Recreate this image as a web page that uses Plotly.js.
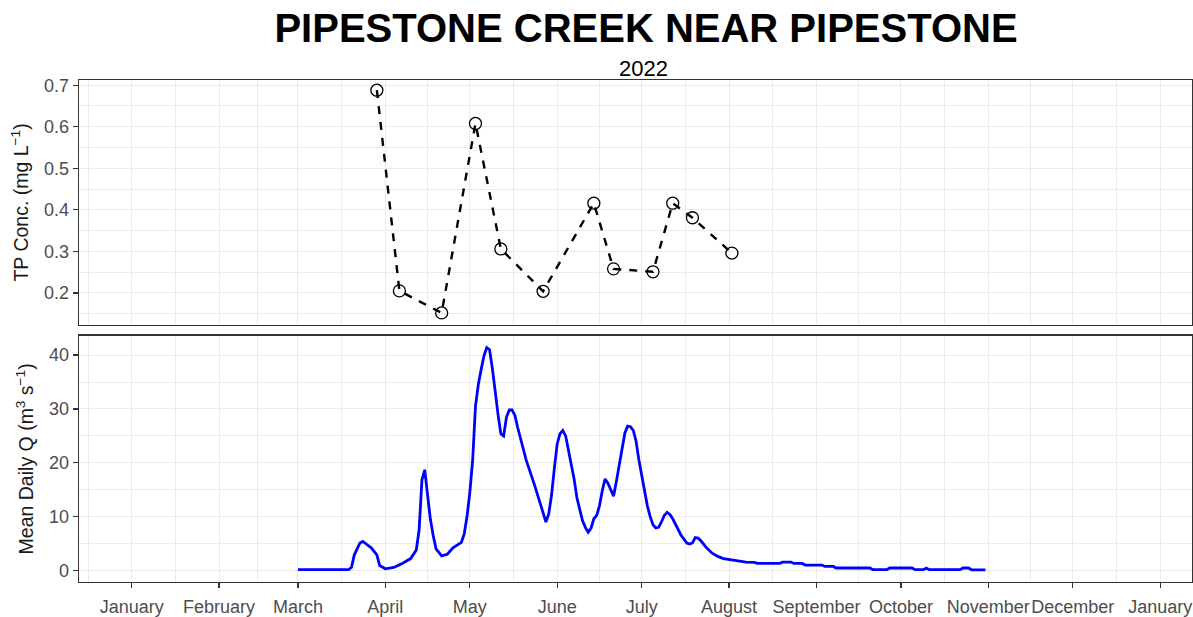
<!DOCTYPE html>
<html>
<head>
<meta charset="utf-8">
<script src="https://cdn.plot.ly/plotly-3.0.1.min.js"></script>
<style>html,body{margin:0;padding:0;background:#fff;}#chart{width:1193px;height:617px;}</style>
</head>
<body>
<div id="chart"></div>
<script>
// ---- Data ----
var tpDates = ['2022-03-29','2022-04-06','2022-04-21','2022-05-03','2022-05-12','2022-05-27',
               '2022-06-14','2022-06-21','2022-07-05','2022-07-12','2022-07-19','2022-08-02'];
var tpValues = [0.688,0.205,0.152,0.608,0.306,0.204,0.416,0.258,0.251,0.416,0.381,0.296];

var qDates = ['2022-03-01','2022-03-19','2022-03-20','2022-03-21','2022-03-23','2022-03-24','2022-03-25',
  '2022-03-27','2022-03-29','2022-03-30','2022-04-01','2022-04-04','2022-04-07','2022-04-10','2022-04-12',
  '2022-04-13','2022-04-14','2022-04-15','2022-04-16','2022-04-17','2022-04-18','2022-04-19','2022-04-21',
  '2022-04-23','2022-04-25','2022-04-27','2022-04-28','2022-04-29','2022-04-30','2022-05-01','2022-05-02',
  '2022-05-03','2022-05-04','2022-05-05','2022-05-06','2022-05-07','2022-05-08','2022-05-09','2022-05-10',
  '2022-05-11','2022-05-12','2022-05-13','2022-05-14','2022-05-15','2022-05-16','2022-05-17','2022-05-18',
  '2022-05-19','2022-05-21','2022-05-24','2022-05-26','2022-05-28','2022-05-29','2022-05-30','2022-05-31',
  '2022-06-01','2022-06-02','2022-06-03','2022-06-04','2022-06-05','2022-06-06','2022-06-07','2022-06-08',
  '2022-06-09','2022-06-10','2022-06-11','2022-06-12','2022-06-13','2022-06-14','2022-06-15','2022-06-16',
  '2022-06-17','2022-06-18','2022-06-19','2022-06-20','2022-06-21','2022-06-22','2022-06-23','2022-06-24',
  '2022-06-25','2022-06-26','2022-06-27','2022-06-28','2022-06-29','2022-06-30','2022-07-01','2022-07-02',
  '2022-07-03','2022-07-04','2022-07-05','2022-07-06','2022-07-07','2022-07-08','2022-07-09','2022-07-10',
  '2022-07-11','2022-07-12','2022-07-13','2022-07-14','2022-07-15','2022-07-16','2022-07-17','2022-07-18',
  '2022-07-19','2022-07-20','2022-07-21','2022-07-22','2022-07-24','2022-07-26','2022-07-28','2022-07-30',
  '2022-08-02','2022-08-05','2022-08-07','2022-08-10','2022-08-11','2022-08-19','2022-08-20','2022-08-23',
  '2022-08-24','2022-08-27','2022-08-28','2022-09-03','2022-09-04','2022-09-07','2022-09-08','2022-09-20',
  '2022-09-21','2022-09-26','2022-09-27','2022-10-05','2022-10-06','2022-10-09','2022-10-10','2022-10-11',
  '2022-10-22','2022-10-23','2022-10-25','2022-10-26','2022-10-31'];
var qValues = [0.15,0.15,0.6,2.9,5.1,5.4,5.0,
  4.2,2.9,0.9,0.3,0.55,1.3,2.2,3.8,
  7.5,16.8,18.7,14,9.5,6.5,4.0,2.7,
  3.0,4.2,4.8,5.2,6.8,10,14.5,20.5,
  30.5,34.5,37.3,39.8,41.4,41.0,37.5,33,
  29,25.4,25,28.5,29.8,29.8,28.8,26.5,
  24.5,20.5,15.8,12.5,9.0,10.5,14,19,
  23.5,25.4,26.0,25,22.5,20,17,13.5,
  11.2,9.2,8,7.1,7.8,9.6,10.2,12,
  14.8,17.0,16.2,15,13.8,16.5,19.5,23,
  25.5,26.8,26.7,26.0,24,20.5,17.5,15,
  12,10,8.5,7.9,8.0,9.0,10.2,10.8,
  10.4,9.6,8.5,7.4,6.5,5.8,5.1,4.9,
  5.1,6.1,6.0,5.5,4.2,3.2,2.6,2.2,
  2.0,1.8,1.55,1.5,1.3,1.3,1.55,1.55,
  1.3,1.3,1.0,1.0,0.74,0.74,0.45,0.45,
  0.15,0.15,0.45,0.45,0.15,0.15,0.45,0.15,
  0.15,0.45,0.45,0.12,0.1];

var monthTickVals = ['2022-01-01','2022-02-01','2022-03-01','2022-04-01','2022-05-01','2022-06-01',
  '2022-07-01','2022-08-01','2022-09-01','2022-10-01','2022-11-01','2022-12-01','2023-01-01'];
var monthTickText = ['January','February','March','April','May','June','July','August',
  'September','October','November','December','January'];
var minorTickVals = ['2021-12-16 12:00','2022-01-16 12:00','2022-02-14 12:00','2022-03-16 12:00',
  '2022-04-16','2022-05-16 12:00','2022-06-16','2022-07-16 12:00','2022-08-16 12:00','2022-09-16',
  '2022-10-16 12:00','2022-11-16','2022-12-16 12:00'];

// ---- Styling ----
var FONT = 'Liberation Sans, Arial, sans-serif';
var GRID = '#EBEBEB';
var BORDER = '#333333';
var xRange = ['2021-12-13 07:00','2023-01-12 07:00'];

var traces = [
  {
    x: qDates, y: qValues, type: 'scatter', mode: 'lines',
    xaxis: 'x', yaxis: 'y',
    line: {color: '#0000FF', width: 2.8},
    hoverinfo: 'x+y', showlegend: false
  },
  {
    x: tpDates, y: tpValues, type: 'scatter', mode: 'lines+markers',
    xaxis: 'x2', yaxis: 'y2',
    line: {color: '#000000', width: 2.4, dash: '8px,8px'},
    marker: {symbol: 'circle-open', size: 12, color: '#000000', line: {width: 1.3, color: '#000000'}},
    hoverinfo: 'x+y', showlegend: false
  }
];

var commonX = {
  type: 'date', range: xRange,
  showgrid: true, gridcolor: GRID, gridwidth: 1,
  showline: true, mirror: true, linecolor: BORDER, linewidth: 1.3,
  zeroline: false,
  tickmode: 'array', tickvals: monthTickVals, ticktext: monthTickText,
  tickangle: 0,
  minor: {tickmode: 'array', tickvals: minorTickVals, showgrid: true, gridcolor: GRID, gridwidth: 1, ticks: ''},
  tickfont: {family: FONT, size: 18, color: '#4D4D4D'}
};

var layout = {
  width: 1193, height: 617,
  paper_bgcolor: '#FFFFFF', plot_bgcolor: '#FFFFFF',
  margin: {l: 79, r: 1, t: 80, b: 35},
  font: {family: FONT},
  showlegend: false,
  title: {
    text: '<b>PIPESTONE CREEK NEAR PIPESTONE</b>',
    font: {family: FONT, size: 40, color: '#000000'},
    xref: 'container', x: 0.5415, xanchor: 'center',
    yref: 'container', y: 0.955, yanchor: 'middle'
  },
  xaxis: Object.assign({}, commonX, {
    anchor: 'y', domain: [0, 1],
    ticks: 'outside', ticklen: 5, tickwidth: 1.2, tickcolor: BORDER,
    ticklabelstandoff: 3,
    showticklabels: true
  }),
  xaxis2: Object.assign({}, commonX, {
    anchor: 'y2', domain: [0, 1], matches: 'x',
    ticks: '', showticklabels: false
  }),
  yaxis: {
    domain: [0, 0.4906], anchor: 'x',
    range: [-2.15, 43.6],
    tickvals: [0, 10, 20, 30, 40],
    minor: {dtick: 5, showgrid: true, gridcolor: GRID, gridwidth: 1, ticks: ''},
    showgrid: true, gridcolor: GRID, gridwidth: 1, zeroline: false,
    showline: true, mirror: true, linecolor: BORDER, linewidth: 1.3,
    ticks: 'outside', ticklen: 5, tickwidth: 1.2, tickcolor: BORDER,
    tickfont: {family: FONT, size: 18, color: '#4D4D4D'},
    title: {text: 'Mean Daily Q (m<sup>3</sup> s<sup>−1</sup>)', font: {family: FONT, size: 19.5, color: '#1A1A1A'}, standoff: 10}
  },
  yaxis2: {
    domain: [0.512, 1], anchor: 'x2',
    range: [0.123, 0.7125],
    tickvals: [0.2, 0.3, 0.4, 0.5, 0.6, 0.7],
    ticktext: ['0.2', '0.3', '0.4', '0.5', '0.6', '0.7'],
    minor: {dtick: 0.05, tick0: 0, showgrid: true, gridcolor: GRID, gridwidth: 1, ticks: ''},
    showgrid: true, gridcolor: GRID, gridwidth: 1, zeroline: false,
    showline: true, mirror: true, linecolor: BORDER, linewidth: 1.3,
    ticks: 'outside', ticklen: 5, tickwidth: 1.2, tickcolor: BORDER,
    tickfont: {family: FONT, size: 18, color: '#4D4D4D'},
    title: {text: 'TP Conc. (mg L<sup>−1</sup>)', font: {family: FONT, size: 19.5, color: '#1A1A1A'}, standoff: 10}
  },
  annotations: [
    {
      text: '2022', xref: 'paper', yref: 'paper',
      x: 0.5076, y: 1.022, xanchor: 'center', yanchor: 'middle',
      showarrow: false, font: {family: FONT, size: 22, color: '#000000'}
    }
  ]
};

Plotly.newPlot('chart', traces, layout, {displayModeBar: false, staticPlot: true});
</script>
</body>
</html>
